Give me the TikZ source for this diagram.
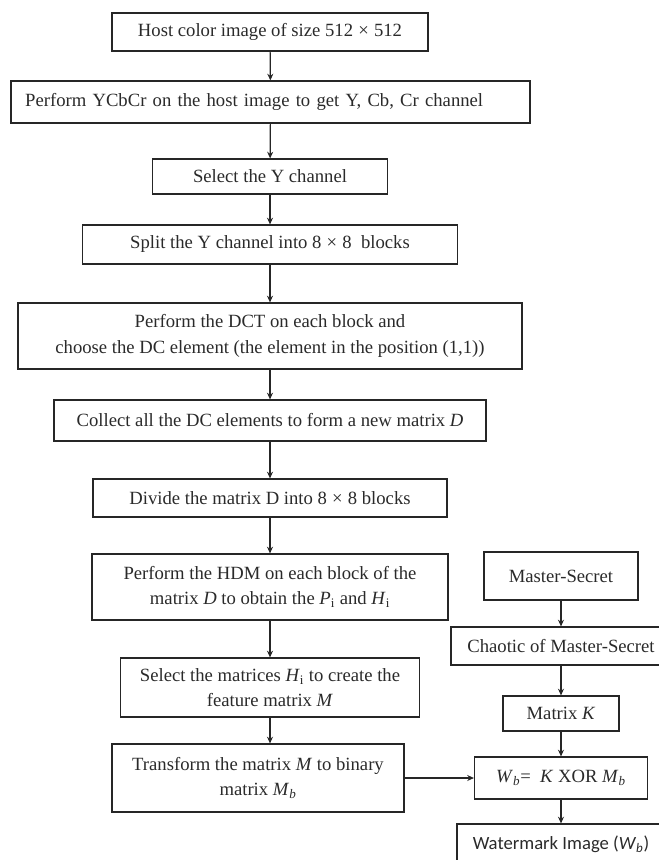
\documentclass[tikz,border=0pt]{standalone}
\usepackage{fontspec}
\setmainfont{Liberation Serif}
\newfontfamily\calib{Carlito}
\usepackage{tikz}
\usetikzlibrary{arrows.meta}
\definecolor{linec}{HTML}{262626}
\definecolor{txtc}{HTML}{2A2A2A}
\tikzset{
  box/.style={draw=linec,line width=0.9pt,align=center,inner sep=2pt,text=txtc,font=\rmfamily\fontsize{14}{19}\selectfont},
  sz/.style 2 args={minimum width=#1*0.75pt,minimum height=#2*0.75pt},
  ar/.style={-{Stealth[length=5pt,width=4.5pt]},line width=0.9pt,linec}
}
\newcommand{\sbi}[1]{\textit{#1}\textsubscript{\textit{b}}}

\begin{document}
\begin{tikzpicture}[x=0.75pt,y=-0.75pt]
\clip (0,0) rectangle (659,860);
% main column
\node[box,sz={316}{38}] (host) at (270,32) {Host color image of size 512\;×\;512};
\node[box,sz={519}{42},text width=368pt,align=left] (ycc) at (270.5,102) {Perform YCbCr on the host image to get Y, Cb, Cr channel};
\node[box,sz={235}{35}] (sely) at (270,176.5) {Select the Y channel};
\node[box,sz={375}{39}] (split) at (270,244.5) {Split the Y channel into 8\;×\;8 \ blocks};
\node[box,sz={504}{66}] (dct) at (270,336) {Perform the DCT on each block and\\choose the DC element (the element in the position (1,1))};
\node[box,sz={432}{41}] (coll) at (270,420.5) {Collect all the DC elements to form a new matrix \textit{D}};
\node[box,sz={354}{38}] (divd) at (270,498) {Divide the matrix D into 8\;×\;8 blocks};
\node[box,sz={356}{66}] (hdm) at (270,587) {Perform the HDM on each block of the\\matrix \textit{D} to obtain the \textit{P}\textsubscript{i} and \textit{H}\textsubscript{i}};
\node[box,sz={299}{59}] (selh) at (270,687.5) {Select the matrices \textit{H}\textsubscript{i} to create the\\feature matrix \textit{M}};
\node[box,sz={292}{68}] (tobin) at (258,778) {Transform the matrix \textit{M} to binary\\matrix \sbi{M}};
% key column
\node[box,sz={154}{48}] (mast) at (561,576) {Master-Secret};
\node[box,sz={220}{38}] (chao) at (561,646) {Chaotic of Master-Secret};
\node[box,sz={116}{35}] (matk) at (561,713.5) {Matrix \textit{K}};
\node[box,sz={173}{42}] (wbx) at (561,778) {\sbi{W}= \ \textit{K} XOR \sbi{M}};
\node[box,sz={208}{40},font=\calib\fontsize{14}{19}\selectfont] (wimg) at (561,844) {Watermark Image (\sbi{W})};
\foreach \a/\b in {host/ycc,ycc/sely,sely/split,split/dct,dct/coll,coll/divd,divd/hdm,hdm/selh,mast/chao,chao/matk,matk/wbx,wbx/wimg}
  \draw[ar] (\a) -- (\b);
\draw[ar] (selh) -- (selh |- tobin.north);
\draw[ar] (tobin) -- (wbx);
\end{tikzpicture}
\end{document}
